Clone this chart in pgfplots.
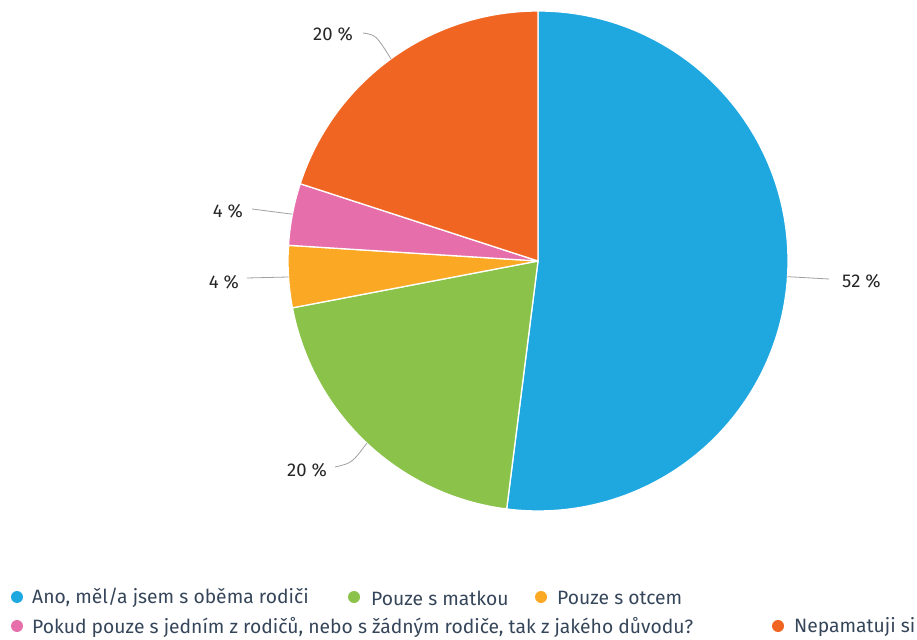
\documentclass[border=0pt]{standalone}
\usepackage{pgfplots}
\usepackage{pgfplotstable}
\pgfplotsset{compat=1.18}
\usepackage{fontspec}
\setmainfont{Fira Sans}
\definecolor{cblue}{HTML}{1FA8E0}
\definecolor{cgreen}{HTML}{8BC34A}
\definecolor{cyellow}{HTML}{FBA924}
\definecolor{cpink}{HTML}{E56EAB}
\definecolor{cred}{HTML}{F16523}
\definecolor{legtext}{HTML}{36465A}
\definecolor{lead}{HTML}{A0A0A0}
\pgfplotstableread{
value color
52 cblue
20 cgreen
4 cyellow
4 cpink
20 cred
}\piedata
\begin{document}
\begin{tikzpicture}
\begin{axis}[
  x=1pt, y=1pt, xmin=0, xmax=917, ymin=0, ymax=639,
  hide axis, clip=false, scale only axis,
]
\path (axis cs:0,0) rectangle (axis cs:917,639);
\pgfplotstablegetrowsof{\piedata}
\pgfmathtruncatemacro{\N}{\pgfplotsretval-1}
\def\cum{0}
\pgfplotsforeachungrouped \i in {0,...,\N}{%
  \pgfplotstablegetelem{\i}{value}\of\piedata \let\v\pgfplotsretval
  \pgfplotstablegetelem{\i}{color}\of\piedata \let\c\pgfplotsretval
  \pgfmathsetmacro{\a}{90-3.6*\cum}%
  \pgfmathsetmacro{\b}{90-3.6*(\cum+\v)}%
  \edef\temp{\noexpand\fill[\c, draw=white, line width=1.3pt, line join=round] (axis cs:538,378) -- ++(\a:250pt) arc[start angle=\a, end angle=\b, radius=250pt] -- cycle;}%
  \temp
  \pgfmathsetmacro{\cum}{\cum+\v}%
}
% leader lines
\draw[lead, line width=0.8pt] (axis cs:787.5,362.3) -- (axis cs:829,360);
\draw[lead, line width=0.8pt] (axis cs:367,196) .. controls (axis cs:352,176) .. (axis cs:335,172);
\draw[lead, line width=0.8pt] (axis cs:288.5,362) -- (axis cs:247,361);
\draw[lead, line width=0.8pt] (axis cs:292.4,424.8) -- (axis cs:252,430);
\draw[lead, line width=0.8pt] (axis cs:391,580) .. controls (axis cs:376,604) .. (axis cs:363,606);
% labels
\tikzset{lab/.style={inner sep=0pt, font=\fontsize{18.5}{22}\selectfont, text=black!85}}
\node[lab, anchor=west] at (axis cs:842,358) {52 \%};
\node[lab, anchor=east] at (axis cs:327,169) {20 \%};
\node[lab, anchor=east] at (axis cs:239,357) {4 \%};
\node[lab, anchor=east] at (axis cs:243,428) {4 \%};
\node[lab, anchor=east] at (axis cs:353,605) {20 \%};
% legend
\tikzset{leg/.style={inner sep=0pt, anchor=west, font=\fontsize{19.3}{23}\selectfont, text=legtext}}
\fill[cblue] (axis cs:17,42) circle[radius=6pt];
\node[leg] at (axis cs:32,41) {Ano, měl/a jsem s oběma rodiči};
\fill[cgreen] (axis cs:354,42) circle[radius=6pt];
\node[leg] at (axis cs:371,41) {Pouze s matkou};
\fill[cyellow] (axis cs:541,42) circle[radius=6pt];
\node[leg] at (axis cs:557,41) {Pouze s otcem};
\fill[cpink] (axis cs:17,13) circle[radius=6pt];
\node[leg] at (axis cs:32,12) {Pokud pouze s jedním z rodičů, nebo s žádným rodiče, tak z jakého důvodu?};
\fill[cred] (axis cs:778,13) circle[radius=6pt];
\node[leg, overlay] at (axis cs:794,12) {Nepamatuji si};
\end{axis}
\end{tikzpicture}
\end{document}
